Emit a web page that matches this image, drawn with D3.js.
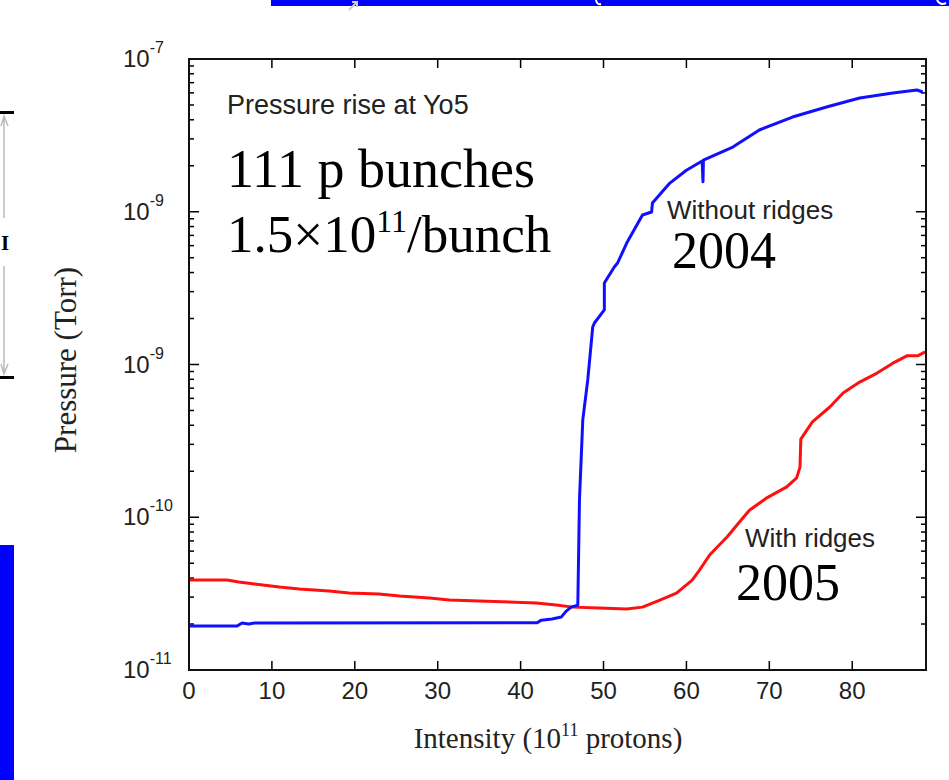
<!DOCTYPE html>
<html>
<head>
<meta charset="utf-8">
<script src="https://cdn.jsdelivr.net/npm/d3@7"></script>
<style>
  body { margin: 0; background: #fff; }
  svg { display: block; }
</style>
</head>
<body>
<div id="chart"></div>
<script>
// values
const xTicks = [0, 10, 20, 30, 40, 50, 60, 70, 80];
const yDecades = [1e-7, 1e-8, 1e-9, 1e-10, 1e-11];
const yTickExp = ['-7', '-9', '-9', '-10', '-11'];   // as printed (second one says -9)

// without ridges, 2004
const blueX = [0, 5.8, 6.4, 7.2, 7.9, 42.0, 42.5, 43.8, 44.9, 45.5, 46.1, 46.9, 47.1, 47.5, 48.1, 48.7, 48.9, 50.1, 50.1, 51.3, 51.7, 52.8, 54.7, 55.8, 55.9, 58.0, 60.0, 61.9, 62.0, 62.05, 65.6, 68.8, 72.8, 76.9, 80.9, 84.9, 87.8, 88.5];
const blueY = [1.94e-11, 1.94e-11, 2.03e-11, 2.0e-11, 2.03e-11, 2.04e-11, 2.12e-11, 2.16e-11, 2.22e-11, 2.43e-11, 2.58e-11, 2.66e-11, 1.3e-10, 4.34e-10, 7.93e-10, 1.76e-9, 1.87e-9, 2.28e-9, 3.42e-9, 4.35e-9, 4.62e-9, 6.24e-9, 9.52e-9, 9.96e-9, 1.14e-8, 1.54e-8, 1.87e-8, 2.15e-8, 1.57e-8, 2.18e-8, 2.65e-8, 3.43e-8, 4.17e-8, 4.85e-8, 5.56e-8, 5.99e-8, 6.27e-8, 6.08e-8];

// with ridges, 2005
const redX = [0, 4.6, 6.0, 7.9, 10.9, 13.3, 16.9, 19.3, 22.9, 25.4, 29.0, 31.4, 35.0, 41.9, 44.3, 46.3, 49.5, 52.8, 54.7, 56.8, 58.8, 60.7, 61.6, 62.8, 64.9, 66.4, 67.6, 69.7, 72.1, 73.3, 73.7, 73.8, 75.2, 77.3, 78.9, 80.9, 83.0, 84.9, 86.6, 87.9, 88.8];
const redY = [3.88e-11, 3.88e-11, 3.77e-11, 3.66e-11, 3.49e-11, 3.39e-11, 3.29e-11, 3.19e-11, 3.15e-11, 3.05e-11, 2.96e-11, 2.87e-11, 2.83e-11, 2.75e-11, 2.66e-11, 2.58e-11, 2.55e-11, 2.51e-11, 2.58e-11, 2.87e-11, 3.19e-11, 3.88e-11, 4.52e-11, 5.66e-11, 7.43e-11, 9.31e-11, 1.11e-10, 1.34e-10, 1.58e-10, 1.81e-10, 2.13e-10, 3.25e-10, 4.21e-10, 5.27e-10, 6.5e-10, 7.67e-10, 8.79e-10, 1.02e-9, 1.14e-9, 1.14e-9, 1.21e-9];

const W = 949, H = 780;
const plot = { left: 189, right: 926, top: 59, bottom: 670 };

const svg = d3.select('#chart').append('svg')
  .attr('width', W).attr('height', H);

// slide bits around the chart
svg.append('rect').attr('x', 271).attr('y', 0).attr('width', W - 271).attr('height', 6).attr('fill', '#0000ff');
svg.append('path').attr('d', 'M596,0 Q597,5 601,4 M937,0 Q940,6 946,3')
  .attr('fill', 'none').attr('stroke', '#fff').attr('stroke-width', 2);
svg.append('rect').attr('x', 0).attr('y', 545).attr('width', 14).attr('height', H - 545).attr('fill', '#0000ff');
svg.append('path').attr('d', 'M349,10 L357,2 M352,2 L357,2 L357,7').attr('fill', 'none').attr('stroke', '#ccc').attr('stroke-width', 2);
const br = svg.append('g');
br.append('rect').attr('x', 0).attr('y', 111).attr('width', 14).attr('height', 3).attr('fill', '#000');
br.append('rect').attr('x', 0).attr('y', 376).attr('width', 14).attr('height', 3).attr('fill', '#000');
br.append('path').attr('d', 'M4,116 L4,218 M4,266 L4,374 M1,126 L4,116 L8,126 M1,364 L4,374 L8,364')
  .attr('fill', 'none').attr('stroke', '#bbb').attr('stroke-width', 1.5);
br.append('text').attr('x', 5).attr('y', 250).attr('font-family', 'Liberation Serif, serif')
  .attr('font-weight', 'bold').attr('font-size', 21).attr('text-anchor', 'middle').text('I');

const x = d3.scaleLinear().domain([0, 88.9]).range([plot.left, plot.right]);
const y = d3.scaleLog().domain([1e-11, 1e-7]).range([plot.bottom, plot.top]);

const sans = 'Liberation Sans, Arial, sans-serif';
const serif = 'Liberation Serif, Times New Roman, serif';

// ticks, drawn inward on all four sides
const ticks = svg.append('g').attr('stroke', '#000').attr('stroke-width', 1.5);
xTicks.forEach(v => {
  ticks.append('line').attr('x1', x(v)).attr('x2', x(v)).attr('y1', plot.bottom).attr('y2', plot.bottom - 9);
  ticks.append('line').attr('x1', x(v)).attr('x2', x(v)).attr('y1', plot.top).attr('y2', plot.top + 9);
});
const minor = [];
for (let e = -11; e < -7; e++) for (let m = 2; m <= 9; m++) minor.push(m * Math.pow(10, e));
minor.forEach(v => {
  ticks.append('line').attr('x1', plot.left).attr('x2', plot.left + 5).attr('y1', y(v)).attr('y2', y(v));
  ticks.append('line').attr('x1', plot.right).attr('x2', plot.right - 5).attr('y1', y(v)).attr('y2', y(v));
});
yDecades.forEach(v => {
  ticks.append('line').attr('x1', plot.left).attr('x2', plot.left + 10).attr('y1', y(v)).attr('y2', y(v));
  ticks.append('line').attr('x1', plot.right).attr('x2', plot.right - 10).attr('y1', y(v)).attr('y2', y(v));
});

// curves
const line = d3.line().x(d => x(d[0])).y(d => y(d[1]));
svg.append('path').datum(redX.map((v, i) => [v, redY[i]]))
  .attr('d', line).attr('fill', 'none').attr('stroke', '#ff1010')
  .attr('stroke-width', 3).attr('stroke-linejoin', 'round');
svg.append('path').datum(blueX.map((v, i) => [v, blueY[i]]))
  .attr('d', line).attr('fill', 'none').attr('stroke', '#1010ff')
  .attr('stroke-width', 3).attr('stroke-linejoin', 'round');

// frame
svg.append('rect').attr('x', plot.left).attr('y', plot.top)
  .attr('width', plot.right - plot.left).attr('height', plot.bottom - plot.top)
  .attr('fill', 'none').attr('stroke', '#111').attr('stroke-width', 2);

// tick labels
svg.append('g').selectAll('text').data(xTicks).enter().append('text')
  .attr('x', d => x(d)).attr('y', plot.bottom + 29)
  .attr('text-anchor', 'middle').attr('font-family', sans).attr('font-size', 24)
  .attr('fill', '#222').text(d => d);

const yl = svg.append('g').attr('font-family', sans).attr('fill', '#222');
yDecades.forEach((v, i) => {
  const t = yl.append('text').attr('x', 123).attr('y', y(v) + 8).attr('font-size', 24);
  t.append('tspan').text('10');
  t.append('tspan').attr('dy', -14).attr('font-size', 16).text(yTickExp[i]);
});

// axis titles
svg.append('text').attr('transform', 'translate(76,360) rotate(-90)')
  .attr('text-anchor', 'middle').attr('font-family', serif).attr('font-size', 31)
  .attr('fill', '#222').text('Pressure (Torr)');
const xt = svg.append('text').attr('x', 548).attr('y', 748)
  .attr('text-anchor', 'middle').attr('font-family', serif).attr('font-size', 29).attr('fill', '#222');
xt.append('tspan').text('Intensity (10');
xt.append('tspan').attr('dy', -12).attr('font-size', 18).text('11');
xt.append('tspan').attr('dy', 12).text(' protons)');

// annotations
svg.append('text').attr('x', 227).attr('y', 114).attr('font-family', sans).attr('font-size', 27)
  .attr('fill', '#222').text('Pressure rise at Yo5');
svg.append('text').attr('x', 227).attr('y', 187).attr('font-family', serif).attr('font-size', 54)
  .attr('fill', '#000').text('111 p bunches');
const t2 = svg.append('text').attr('x', 227).attr('y', 252).attr('font-family', serif)
  .attr('font-size', 53).attr('fill', '#000');
t2.append('tspan').text('1.5\u00d710');
t2.append('tspan').attr('dy', -20).attr('font-size', 32).text('11');
t2.append('tspan').attr('dy', 20).text('/bunch');

svg.append('text').attr('x', 667).attr('y', 219).attr('font-family', sans).attr('font-size', 26)
  .attr('fill', '#222').text('Without ridges');
svg.append('text').attr('x', 672).attr('y', 268).attr('font-family', serif).attr('font-size', 52)
  .attr('fill', '#000').text('2004');
svg.append('text').attr('x', 745).attr('y', 547).attr('font-family', sans).attr('font-size', 26)
  .attr('fill', '#222').text('With ridges');
svg.append('text').attr('x', 736).attr('y', 600).attr('font-family', serif).attr('font-size', 52)
  .attr('fill', '#000').text('2005');
</script>
</body>
</html>
